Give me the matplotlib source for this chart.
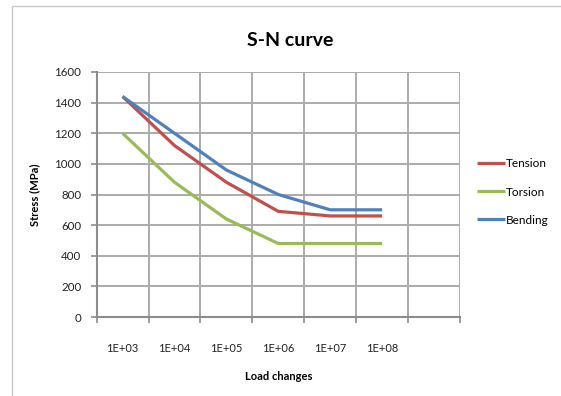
import matplotlib.pyplot as plt
from matplotlib.patches import Rectangle

# categorie asse x (ultima casella vuota come nell'originale)
cycles = ["1E+03", "1E+04", "1E+05", "1E+06", "1E+07", "1E+08", ""]
tension = [1440, 1120, 880, 690, 660, 660]
torsion = [1200, 880, 640, 480, 480, 480]
bending = [1440, 1200, 960, 800, 700, 700]
y_ticks = [0, 200, 400, 600, 800, 1000, 1200, 1400, 1600]

plt.rcParams['font.family'] = ['Lato', 'DejaVu Sans']

W, H = 561, 396
fig = plt.figure(figsize=(W / 100, H / 100), dpi=100)
fig.patch.set_facecolor('white')

# cornice esterna del grafico
fig.patches.append(Rectangle((12 / W, -0.05), 1.0, 1.05 - 6 / H, transform=fig.transFigure,
                             fill=False, edgecolor='#c8c8c8', linewidth=1.0))

ax = fig.add_axes([96.6 / W, (H - 317) / H, (460 - 96.6) / W, 245 / H])

x = list(range(len(tension)))
ax.plot(x, tension, color='#C0504D', linewidth=2.3, label='Tension', solid_capstyle='butt')
ax.plot(x, torsion, color='#9BBB59', linewidth=2.3, label='Torsion', solid_capstyle='butt')
ax.plot(x, bending, color='#4F81BD', linewidth=2.3, label='Bending', solid_capstyle='butt')

ax.set_xlim(-0.5, len(cycles) - 0.5)
ax.set_ylim(0, 1600)
ax.set_yticks(y_ticks)
ax.set_xticks(range(len(cycles)))
ax.set_xticklabels(cycles)
ax.set_xticks([i - 0.5 for i in range(len(cycles) + 1)], minor=True)

ax.grid(True, which='major', axis='y', color='#ababab', linewidth=1.4)
ax.grid(True, which='minor', axis='x', color='#ababab', linewidth=1.4)
ax.set_axisbelow(True)

for s in ['top', 'right']:
    ax.spines[s].set_visible(False)
for s in ['left', 'bottom']:
    ax.spines[s].set_color('#8c8c8c')
    ax.spines[s].set_linewidth(1.5)

ax.tick_params(axis='x', which='major', length=0, pad=19, labelsize=8, colors='#222222')
ax.tick_params(axis='x', which='minor', length=4, color='#8c8c8c', width=1.2)
ax.tick_params(axis='y', length=4, color='#8c8c8c', width=1.2, pad=7, labelsize=8.3,
               labelcolor='#222222')

ax.set_xlabel("Load changes", fontsize=8, fontweight='bold', labelpad=12)
ax.set_ylabel("Stress (MPa)", fontsize=8, fontweight='bold', labelpad=10)
fig.text(290 / W, 1 - 40 / H, "S-N curve", ha='center', va='center',
         fontsize=14, fontweight='bold')

ax.legend(loc='center left', bbox_to_anchor=(466 / W, 1 - 192 / H),
          bbox_transform=fig.transFigure, frameon=False, fontsize=8.5,
          handlelength=2.4, handletextpad=0.1, labelspacing=1.45)

fig.savefig("out.png", dpi=100)
